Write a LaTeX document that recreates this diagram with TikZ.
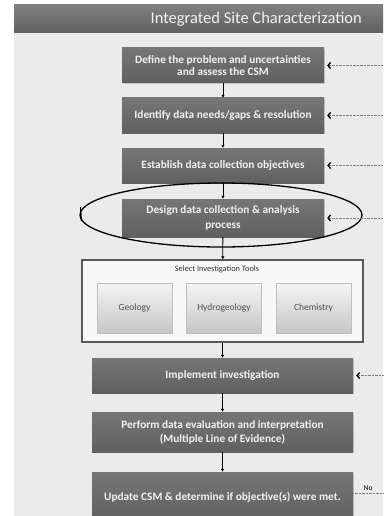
\documentclass[tikz,border=0pt]{standalone}
\usepackage{fontspec}
\setmainfont{Carlito}
\usetikzlibrary{arrows.meta,shadows}
\definecolor{panel}{RGB}{235,235,235}
\definecolor{headtop}{RGB}{128,128,128}
\definecolor{headbot}{RGB}{96,96,96}
\definecolor{boxtop}{RGB}{118,118,118}
\definecolor{boxbot}{RGB}{96,96,96}
\definecolor{boxtext}{RGB}{242,242,242}
\definecolor{tooltop}{RGB}{244,244,244}
\definecolor{toolbot}{RGB}{198,198,198}
\definecolor{tooltext}{RGB}{80,80,80}
\begin{document}
\begin{tikzpicture}[x=1pt,y=-1pt,
  stage/.style={top color=boxtop,bottom color=boxbot,text=boxtext,align=center,
    inner sep=0pt,font=\bfseries\fontsize{11.3}{11.5}\selectfont,
    drop shadow={shadow xshift=0.6pt,shadow yshift=-1.2pt,opacity=0.35}},
  tool/.style={draw=gray!50,top color=tooltop,bottom color=toolbot,text=tooltext,
    minimum width=75pt,minimum height=50pt,inner sep=0pt,font=\fontsize{9.5}{10}\selectfont},
  flow/.style={-{Latex[length=3pt,width=3.5pt]},black,line width=0.8pt},
  feed/.style={gray,densely dotted,thin,{Straight Barb[length=2.5pt,width=6pt,line width=1.3pt,color=black]}-}]
  \useasboundingbox (0,0) rectangle (383,516);
  \fill[white] (0,0) rectangle (383,516);
  % Panel and header
  \fill[panel] (14,5) rectangle (383,516);
  \shade[top color=headtop,bottom color=headbot] (14,5) rectangle (383,33);
  \node[anchor=east,text=boxtext,font=\fontsize{16.5}{18}\selectfont,inner sep=0pt] (title) at (362,19)
    {Integrated Site Characterization};
  \coordinate (rim) at (383,0);
  % Stages
  \node[stage,minimum width=202pt,minimum height=35pt] (define) at (223,65.5)
    {Define the problem and uncertainties\\and assess the CSM};
  \node[stage,minimum width=202pt,minimum height=35pt] (identify) at (223,115.5)
    {Identify data needs/gaps \& resolution};
  \node[stage,minimum width=202pt,minimum height=35pt] (establish) at (223,165.5)
    {Establish data collection objectives};
  \node[stage,minimum width=202pt,minimum height=38pt,font=\bfseries\fontsize{11.3}{15}\selectfont] (design) at (223,218)
    {Design data collection \& analysis\\process};
  % Investigation tools
  \node[draw=black!65,line width=1.3pt,fill=gray!6,minimum width=281pt,minimum height=82pt] (tools) at (222.5,301) {};
  \node[font=\fontsize{8.3}{9}\selectfont,text=black!80] (toolslabel) at (217,269) {Select Investigation Tools};
  \node[tool] (geology) at (134.5,308) {Geology};
  \node[tool] (hydro) at (224,308) {Hydrogeology};
  \node[tool] (chem) at (313.5,308) {Chemistry};
  \node[stage,minimum width=261pt,minimum height=35pt] (implement) at (222.5,375.5)
    {Implement investigation};
  \node[stage,minimum width=261pt,minimum height=40pt,font=\bfseries\fontsize{11.3}{14}\selectfont] (perform) at (222.5,432)
    {Perform data evaluation and interpretation\\(Multiple Line of Evidence)};
  \node[stage,minimum width=261pt,minimum height=50pt] (update) at (222.5,497)
    {Update CSM \& determine if objective(s) were met.};
  % Highlight
  \draw[line width=1.3pt] (221,215) ellipse [x radius=141,y radius=32];
  \draw[line width=1.1pt] (80.5,207) -- (81.5,221);
  % Connectors
  \draw[flow] (define) -- (identify);
  \draw[flow] (identify) -- (establish);
  \draw[flow] (establish) -- (design);
  \draw[flow] (design) -- (tools);
  \draw[flow] (tools.south -| implement) -- (implement);
  \draw[flow] (implement) -- (perform);
  \draw[flow] (perform) -- (update);
  \foreach \n in {define,identify,establish,design,implement}
    \draw[feed] ([xshift=3pt]\n.east) -- (\n.east -| rim);
  \draw[gray,densely dotted,thin] ([yshift=4pt]update.east) -- ([yshift=4pt]update.east -| rim)
    node[midway,above=-1pt,font=\fontsize{7.5}{8}\selectfont,text=black] (no) {No};
\end{tikzpicture}
\end{document}
